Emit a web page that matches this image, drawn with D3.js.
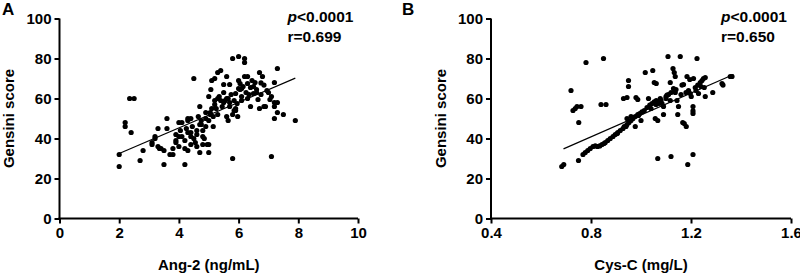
<!DOCTYPE html>
<html>
<head>
<meta charset="utf-8">
<script src="https://cdn.jsdelivr.net/npm/d3@7"></script>
<style>
  html, body { margin: 0; padding: 0; background: #fff; }
  svg { display: block; }
  text { font-family: "Liberation Sans", Arial, sans-serif; font-weight: bold; fill: #000; }
</style>
</head>
<body>
<svg id="chart" width="800" height="277"></svg>
<script>
// ---------- Data ----------
// Panel A: Ang-2 (ng/mL) vs Gensini score
const angX = [2.0,2.0,2.2,2.2,2.4,2.35,2.5,2.7,2.8,3.1,3.1,3.2,3.2,3.3,3.3,3.35,3.4,3.5,3.5,3.6,3.6,3.7,3.8,3.8,3.9,3.9,4.0,4.05,4.0,4.1,4.1,4.2,4.2,4.2,4.3,4.3,4.3,4.4,4.3,4.4,4.4,4.4,4.5,4.5,4.55,4.6,4.6,4.65,4.7,4.7,4.75,4.7,4.8,4.8,4.85,4.9,4.9,4.95,5.0,5.0,5.0,5.0,5.05,5.07,5.1,5.15,5.15,5.2,5.2,5.25,5.3,5.3,5.3,5.4,5.35,5.4,5.45,5.5,5.5,5.55,5.6,5.6,5.65,5.65,5.7,5.7,5.7,5.75,5.8,5.8,5.8,5.85,5.85,5.9,5.9,5.95,5.97,6.0,6.0,6.05,6.05,6.1,6.1,6.15,6.2,6.2,6.2,6.25,6.3,6.3,6.35,6.4,6.4,6.45,6.5,6.5,6.55,6.6,6.65,6.7,6.7,6.75,6.75,6.8,6.85,6.85,6.9,6.95,7.0,7.05,7.1,7.1,7.2,7.2,7.2,7.2,7.3,7.3,7.3,7.5,7.9,4.45,4.6,4.9,5.1,5.5,5.9,6.0,6.3,6.6,4.0,4.8,5.2,5.6,6.1,3.9,4.25,4.75,5.05];
const angY = [26,32,48,46,43,60,60,29,34,38,37,40,41,45,36,35,35,34,27,45,50,32,32,35,39,42,41,44,36,48,41,27,35,39,43,49,50,50,34,37,41,43,40,70,38,36,44,51,56,47,49,33,37,41,40,46,50,37,33,37,49,61,52,64.5,69,51,46,59,70,55,60,52,73,74,61,59,56,67,63,59,51,71,49,60,67,58,56,62,52,30,80,54,59,62.5,55,57.5,51,81,69,64.5,67.5,61,59,66,71,80,78,63,67.5,71,62,65.5,56,69,66,62.5,68,64.5,59.5,73,55,67.8,62,71,56,66.7,56,64,63,59.5,31,61,58,50,68,56,75,58,53,52,49,46,42,53,55,58,54,65,60,63,48,44,57,60,65,38,45,47,53];
const angFitX = [2.0, 7.9];
const angFitY = [32.5, 70.2];

// Panel B: Cys-C (mg/L) vs Gensini score
const cysX = [0.683,0.691,0.72,0.728,0.737,0.744,0.76,0.751,0.75,0.78,0.85,0.84,0.86,0.768,0.777,0.787,0.797,0.808,0.817,0.835,0.844,0.857,0.867,0.877,0.888,0.897,0.907,0.917,0.928,0.933,0.944,0.952,0.96,0.968,0.977,0.987,0.995,1.004,1.013,1.024,1.035,1.044,1.053,1.061,0.944,0.96,0.977,0.93,0.944,0.95,0.95,0.98,0.987,1.017,1.047,1.053,1.061,1.03,1.057,1.067,1.067,1.077,1.084,1.09,1.09,1.104,1.108,1.117,1.12,1.128,1.133,1.137,1.13,1.137,1.144,1.147,1.15,1.157,1.164,1.17,1.167,1.173,1.181,1.184,1.195,1.187,1.19,1.197,1.201,1.208,1.208,1.208,1.208,1.21,1.224,1.217,1.227,1.237,1.244,1.25,1.257,1.23,1.253,1.257,1.287,1.324,1.328,1.357,1.364,1.07,1.08,1.10,1.11,1.12,1.14,1.117,0.826,0.852,0.905,0.94,0.99,1.00,1.04,1.06,1.075,1.10,1.16,1.18,1.22,1.24];
const cysY = [26,27,64,54,55,56,56,48,29,78,80,57,57,32,33,34,35,36,36.3,36.3,37,38,39,40,41,42,43,44,45,46,47,48,49,50,51,52,52.5,53.3,54,55.5,56.7,57.5,58.3,59,50,51,46,60,60.5,69,66,60.5,59.5,73,74,68,67.5,60,50,49,30,60,57.5,56,52,61.7,81,68,31,75,73,71,65,63,59,52,56,81,66.7,67,48,47.5,46,71,69.5,27,64,62.5,61,56,53.8,52.5,32,70,80,65.5,66.7,68,69,70,70.5,62.5,65.5,61,63,67.5,66.7,71,71,57.5,59,61,62,63,64.5,59,36,37.5,42.5,46,51.5,49,55,57,58.5,60,62,63,64,66];
const cysFitX = [0.69, 1.37];
const cysFitY = [34.8, 72.0];

const yTicks = [0, 20, 40, 60, 80, 100];
const angTicks = [0, 2, 4, 6, 8, 10];
const cysTicks = [0.4, 0.8, 1.2, 1.6];

const panels = [
  { label: "A", xs: angX, ys: angY, fx: angFitX, fy: angFitY, xDomain: [0, 10], xTicks: angTicks,
    fmt: d3.format("d"), xTitle: "Ang-2 (ng/mL)", p: "<0.0001", r: "r=0.699", left: 59.5, right: 358, titleX: 14, labelX: 2 },
  { label: "B", xs: cysX, ys: cysY, fx: cysFitX, fy: cysFitY, xDomain: [0.4, 1.6], xTicks: cysTicks,
    fmt: d3.format(".1f"), xTitle: "Cys-C (mg/L)", p: "<0.0001", r: "r=0.650", left: 491, right: 791, titleX: 446, labelX: 402 }
];

const svg = d3.select("#chart");
const plotTop = 18.5, plotBottom = 218.5;

panels.forEach(P => {
  const x = d3.scaleLinear().domain(P.xDomain).range([P.left, P.right]);
  const y = d3.scaleLinear().domain([0, 100]).range([plotBottom, plotTop]);
  const g = svg.append("g");

  // axes
  const yAxis = d3.axisLeft(y).tickValues(yTicks).tickSize(5).tickPadding(3).tickSizeOuter(0);
  const xAxis = d3.axisBottom(x).tickValues(P.xTicks).tickFormat(P.fmt).tickSize(5).tickPadding(4).tickSizeOuter(0);
  const ya = g.append("g").attr("transform", `translate(${P.left},0)`).call(yAxis);
  const xa = g.append("g").attr("transform", `translate(0,${plotBottom})`).call(xAxis);
  [ya, xa].forEach(a => {
    a.selectAll("path").attr("stroke", "#000").attr("stroke-width", 2);
    a.selectAll("line").attr("stroke", "#000").attr("stroke-width", 2);
    a.selectAll("text").style("font-size", "15px").style("font-family", "'Liberation Sans', Arial, sans-serif").style("font-weight", "bold").attr("fill", "#000");
  });
  ya.select("path").attr("d", `M0,${plotTop}V${plotBottom + 1}`);
  xa.select("path").attr("d", `M${P.left - 1},0H${P.right}`);

  // points
  const pts = d3.zip(P.xs, P.ys);
  g.append("g").selectAll("circle").data(pts).join("circle")
    .attr("cx", d => x(d[0])).attr("cy", d => y(d[1])).attr("r", 2.6).attr("fill", "#000");

  // fit line
  g.append("line")
    .attr("x1", x(P.fx[0])).attr("y1", y(P.fy[0]))
    .attr("x2", x(P.fx[1])).attr("y2", y(P.fy[1]))
    .attr("stroke", "#000").attr("stroke-width", 1.2);

  // titles
  g.append("text").attr("x", (P.left + P.right) / 2).attr("y", 270)
    .attr("text-anchor", "middle").style("font-size", "15px").text(P.xTitle);
  g.append("text").attr("transform", `translate(${P.titleX},${(plotTop + plotBottom) / 2}) rotate(-90)`)
    .attr("text-anchor", "middle").style("font-size", "15px").text("Gensini score");

  // panel label
  g.append("text").attr("x", P.labelX).attr("y", 15).style("font-size", "17px").text(P.label);

  // annotation
  const ax = P.left + (P.label === "A" ? 228 : 230);
  const t1 = g.append("text").attr("x", ax).attr("y", 22).style("font-size", "15.5px");
  t1.append("tspan").style("font-style", "italic").text("p");
  t1.append("tspan").text(P.p);
  g.append("text").attr("x", ax).attr("y", 42).style("font-size", "15.5px").text(P.r);
});
</script>
</body>
</html>
